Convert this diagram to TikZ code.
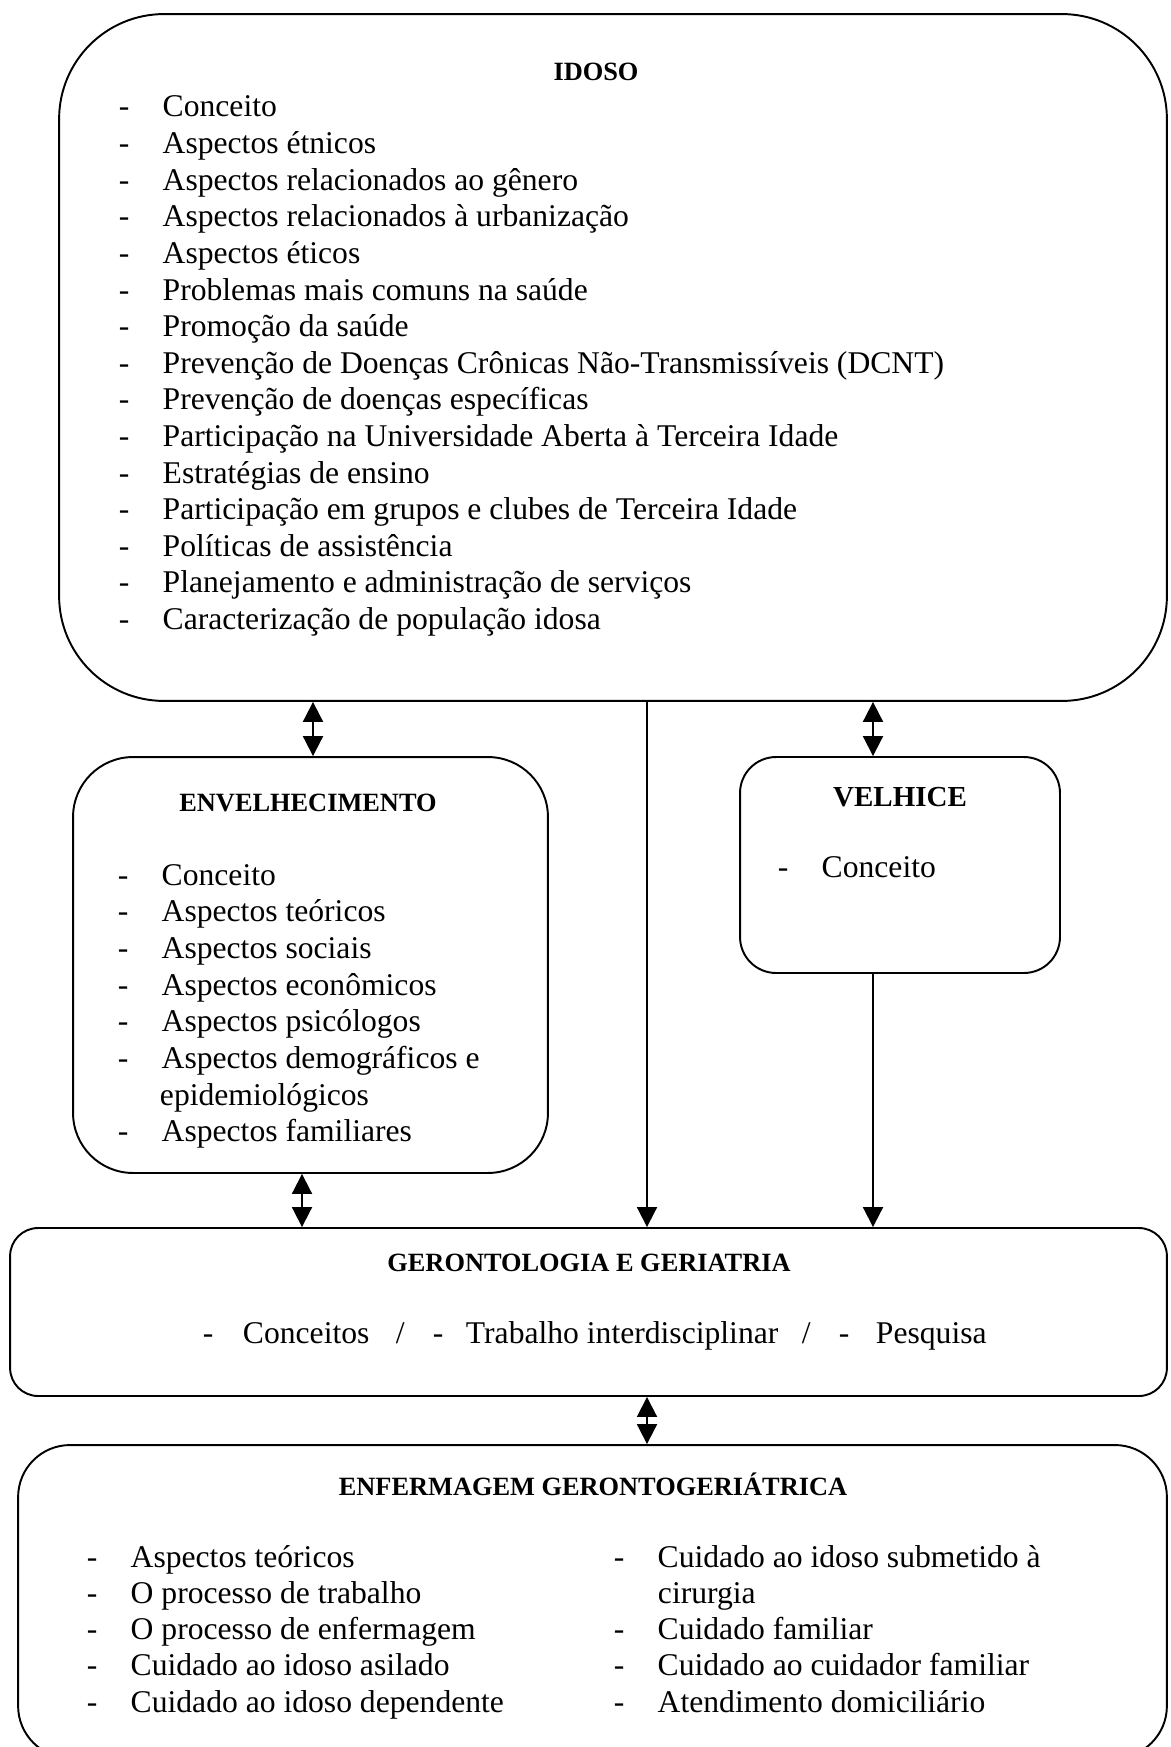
\documentclass[tikz,border=0pt]{standalone}
\usepackage{fontspec}
\setmainfont{Liberation Serif}
\usetikzlibrary{arrows.meta}

\newcommand{\hifen}[1]{\makebox[24.9pt][l]{-}#1}

\begin{document}
\begin{tikzpicture}[x=0.02cm, y=-0.02cm, line width=1.1pt,
        every node/.style={inner sep=0pt},
        caixa/.style={draw, rectangle},
        titulo/.style={anchor=base, font=\fontsize{15}{18}\selectfont\bfseries},
        texto/.style={anchor=base west, font=\fontsize{18}{20.7}\selectfont},
        seta/.style={-{Triangle[length=0.4cm,width=0.4cm]}},
        dupla/.style={{Triangle[length=0.4cm,width=0.4cm]}-{Triangle[length=0.4cm,width=0.4cm]}}]
        \useasboundingbox (0,0) rectangle (1170,1747);
        \clip (0,0) rectangle (1170,1747);

        % caixas
        \node[caixa, rounded corners=2.1cm, minimum width=22.16cm, minimum height=13.74cm] (idoso) at (613, 357.5) {};
        \node[caixa, rounded corners=1.2cm, minimum width=9.5cm, minimum height=8.32cm] (env) at (310.5, 965) {};
        \node[caixa, rounded corners=0.72cm, minimum width=6.4cm, minimum height=4.32cm] (velhice) at (900, 865) {};
        \node[caixa, rounded corners=0.56cm, minimum width=23.14cm, minimum height=3.36cm] (gero) at (588.5, 1312) {};
        \node[caixa, rounded corners=1.04cm, minimum width=22.98cm, minimum height=6.26cm] (enf) at (592.5, 1601.5) {};

        \node[titulo] (tid) at (596, 81) { IDOSO };
        \node[texto] (i1) at (118, 117) { \hifen{Conceito} };
        \node[texto] (i2) at (118, 153.6) { \hifen{Aspectos étnicos} };
        \node[texto] (i3) at (118, 190.2) { \hifen{Aspectos relacionados ao gênero} };
        \node[texto] (i4) at (118, 226.8) { \hifen{Aspectos relacionados à urbanização} };
        \node[texto] (i5) at (118, 263.4) { \hifen{Aspectos éticos} };
        \node[texto] (i6) at (118, 300) { \hifen{Problemas mais comuns na saúde} };
        \node[texto] (i7) at (118, 336.6) { \hifen{Promoção da saúde} };
        \node[texto] (i8) at (118, 373.2) { \hifen{Prevenção de Doenças Crônicas Não-Transmissíveis (DCNT)} };
        \node[texto] (i9) at (118, 409.8) { \hifen{Prevenção de doenças específicas} };
        \node[texto] (i10) at (118, 446.4) { \hifen{Participação na Universidade Aberta à Terceira Idade} };
        \node[texto] (i11) at (118, 483) { \hifen{Estratégias de ensino} };
        \node[texto] (i12) at (118, 519.6) { \hifen{Participação em grupos e clubes de Terceira Idade} };
        \node[texto] (i13) at (118, 556.2) { \hifen{Políticas de assistência} };
        \node[texto] (i14) at (118, 592.8) { \hifen{Planejamento e administração de serviços} };
        \node[texto] (i15) at (118, 629.4) { \hifen{Caracterização de população idosa} };

        \node[titulo] (tenv) at (308, 811) { ENVELHECIMENTO };
        \node[texto] (e1) at (117, 885) { \hifen{Conceito} };
        \node[texto] (e2) at (117, 921.7) { \hifen{Aspectos teóricos} };
        \node[texto] (e3) at (117, 958.4) { \hifen{Aspectos sociais} };
        \node[texto] (e4) at (117, 995.1) { \hifen{Aspectos econômicos} };
        \node[texto] (e5) at (117, 1031.8) { \hifen{Aspectos psicólogos} };
        \node[texto] (e6) at (117, 1068.5) { \hifen{Aspectos demográficos e} };
        \node[texto] (e7) at (159, 1105.2) { epidemiológicos };
        \node[texto] (e8) at (117, 1141.9) { \hifen{Aspectos familiares} };

        \node[titulo, font=\fontsize{16.5}{19}\selectfont\bfseries] (tvel) at (900, 806) { VELHICE };
        \node[texto] (v1) at (777, 877) { \hifen{Conceito} };

        \node[titulo] (tger) at (589, 1271) { GERONTOLOGIA E GERIATRIA };
        \node[texto] (g1) at (202, 1343) { - };
        \node[texto] (g2) at (242, 1343) { Conceitos };
        \node[texto] (g3) at (395, 1343) { / };
        \node[texto] (g4) at (432, 1343) { - };
        \node[texto] (g5) at (465, 1343) { Trabalho interdisciplinar };
        \node[texto] (g6) at (801, 1343) { / };
        \node[texto] (g7) at (838, 1343) { - };
        \node[texto] (g8) at (875, 1343) { Pesquisa };

        \node[titulo] (tenf) at (593, 1495) { ENFERMAGEM GERONTOGERIÁTRICA };
        \node[texto] (n1) at (86, 1567) { \hifen{Aspectos teóricos} };
        \node[texto] (n2) at (86, 1603.3) { \hifen{O processo de trabalho} };
        \node[texto] (n3) at (86, 1639.6) { \hifen{O processo de enfermagem} };
        \node[texto] (n4) at (86, 1675.9) { \hifen{Cuidado ao idoso asilado} };
        \node[texto] (n5) at (86, 1712.2) { \hifen{Cuidado ao idoso dependente} };
        \node[texto] (n6) at (613, 1567) { \hifen{Cuidado ao idoso submetido à} };
        \node[texto] (n7) at (657, 1603.3) { cirurgia };
        \node[texto] (n8) at (613, 1639.6) { \hifen{Cuidado familiar} };
        \node[texto] (n9) at (613, 1675.9) { \hifen{Cuidado ao cuidador familiar} };
        \node[texto] (n10) at (613, 1712.2) { \hifen{Atendimento domiciliário} };

        % ligacoes
        \coordinate (xe) at (313, 0);
        \coordinate (xf) at (302, 0);
        \coordinate (xc) at (647, 0);
        \coordinate (xv) at (873, 0);
        \draw[dupla] (idoso.south -| xe) -- (env.north -| xe);
        \draw[dupla] (idoso.south -| xv) -- (velhice.north -| xv);
        \draw[seta] (idoso.south -| xc) -- (gero.north -| xc);
        \draw[seta] (velhice.south -| xv) -- (gero.north -| xv);
        \draw[dupla] (env.south -| xf) -- (gero.north -| xf);
        \draw[dupla] (gero.south -| xc) -- (enf.north -| xc);

    \end{tikzpicture}
\end{document}
